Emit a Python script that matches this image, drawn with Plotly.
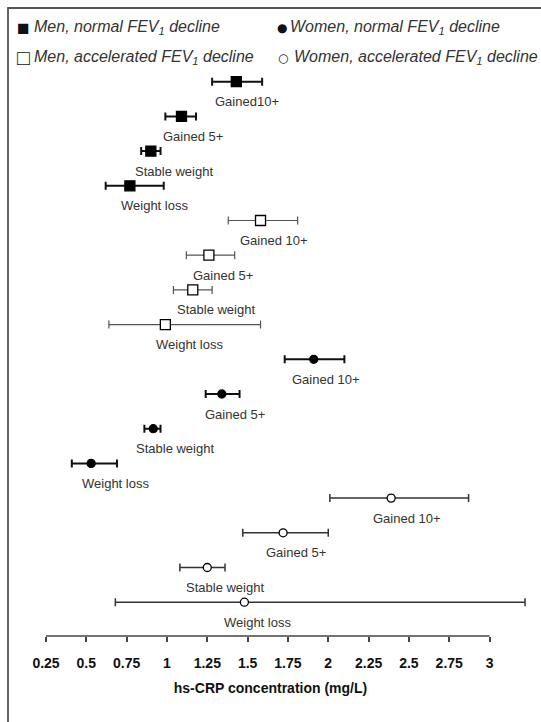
import plotly.graph_objects as go

# hs-CRP (mg/L) by weight-change group, point estimate with 95% CI
weight_groups = ["Gained 10+", "Gained 5+", "Stable weight", "Weight loss"]
men_normal_labels = ["Gained10+", "Gained 5+", "Stable weight", "Weight loss"]

men_normal = [1.43, 1.09, 0.90, 0.77]
men_normal_lo = [1.28, 0.99, 0.84, 0.62]
men_normal_hi = [1.59, 1.18, 0.96, 0.98]

men_accel = [1.58, 1.26, 1.16, 0.99]
men_accel_lo = [1.38, 1.12, 1.04, 0.64]
men_accel_hi = [1.81, 1.42, 1.28, 1.58]

women_normal = [1.91, 1.34, 0.915, 0.53]
women_normal_lo = [1.73, 1.24, 0.86, 0.41]
women_normal_hi = [2.10, 1.45, 0.96, 0.69]

women_accel = [2.39, 1.72, 1.25, 1.48]
women_accel_lo = [2.01, 1.47, 1.08, 0.68]
women_accel_hi = [2.87, 2.00, 1.36, 3.22]

tick_values = [0.25, 0.5, 0.75, 1, 1.25, 1.5, 1.75, 2, 2.25, 2.5, 2.75, 3]
tick_labels = ["0.25", "0.5", "0.75", "1", "1.25", "1.5", "1.75", "2",
               "2.25", "2.5", "2.75", "3"]

FONT = "Liberation Sans, Arial, sans-serif"
GLYPH_FONT = "DejaVu Sans, sans-serif"
W, H, B = 541, 722, 86          # figure size and bottom margin (px)
PLOT_H = H - B

series = [
    dict(name="Men, normal FEV<sub>1</sub> decline", v=men_normal, lo=men_normal_lo,
         hi=men_normal_hi, labels=men_normal_labels, symbol="square", size=10,
         fill="black", ecolor="#111", ewidth=2, shifts=[11, 12, 23, 25],
         glyph="■", glyph_font=FONT, glyph_size=21, key=(23, 28), text_x=32),
    dict(name="Men, accelerated FEV<sub>1</sub> decline", v=men_accel, lo=men_accel_lo,
         hi=men_accel_hi, labels=weight_groups, symbol="square", size=10,
         fill="white", ecolor="#555", ewidth=1.2, shifts=[13, 14, 23, 24],
         glyph="□", glyph_font=FONT, glyph_size=21, key=(23, 58), text_x=32),
    dict(name="Women, normal FEV<sub>1</sub> decline", v=women_normal, lo=women_normal_lo,
         hi=women_normal_hi, labels=weight_groups, symbol="circle", size=8,
         fill="black", ecolor="#111", ewidth=2, shifts=[12, 13, 22, 24],
         glyph="●", glyph_font=GLYPH_FONT, glyph_size=12, key=(282, 28), text_x=288),
    dict(name="Women, accelerated FEV<sub>1</sub> decline", v=women_accel, lo=women_accel_lo,
         hi=women_accel_hi, labels=weight_groups, symbol="circle", size=8,
         fill="white", ecolor="#333", ewidth=1.5, shifts=[16, 13, 18, 13],
         glyph="○", glyph_font=GLYPH_FONT, glyph_size=12, key=(283, 58), text_x=292),
]

fig = go.Figure()
annotations = []
row = 0
for s in series:
    rows = list(range(row, row + len(s["v"])))
    row += len(s["v"])
    fig.add_trace(go.Scatter(
        x=s["v"], y=rows, mode="markers", name=s["name"],
        marker=dict(symbol=s["symbol"], size=s["size"], color=s["fill"],
                    line=dict(color="black", width=1.3)),
        error_x=dict(type="data", symmetric=False,
                     array=[h - v for h, v in zip(s["hi"], s["v"])],
                     arrayminus=[v - l for v, l in zip(s["v"], s["lo"])],
                     color=s["ecolor"], thickness=s["ewidth"], width=4),
    ))
    for x, y, lab, sh in zip(s["v"], rows, s["labels"], s["shifts"]):
        annotations.append(dict(x=x, y=y, xref="x", yref="y", text=lab,
                                showarrow=False, xshift=sh, yshift=-20,
                                font=dict(family=FONT, size=13, color="#333")))
    # key entry: symbol glyph followed by italic series name
    kx, ky = s["key"]
    annotations.append(dict(x=kx / W, y=1 - ky / PLOT_H, xref="paper", yref="paper",
                            text=s["glyph"], showarrow=False, xanchor="center",
                            yanchor="middle",
                            font=dict(family=s["glyph_font"], size=s["glyph_size"],
                                      color="#111")))
    annotations.append(dict(x=s["text_x"] / W, y=1 - ky / PLOT_H, xref="paper",
                            yref="paper", text="<i>" + s["name"] + "</i>",
                            showarrow=False, xanchor="left", yanchor="middle",
                            font=dict(family=FONT, size=16, color="#333")))

fig.update_layout(
    width=W, height=H,
    margin=dict(l=0, r=0, t=0, b=B),
    paper_bgcolor="white", plot_bgcolor="white",
    font=dict(family=FONT, color="#333"),
    showlegend=False,
    xaxis=dict(range=[-0.0352, 3.319], tickvals=tick_values, ticktext=tick_labels,
               ticks="outside", ticklen=5, tickwidth=1.5, tickcolor="#444",
               showline=False, showgrid=False, zeroline=False,
               tickfont=dict(family=FONT, size=14, color="#111", weight="bold"),
               ticklabelstandoff=9,
               title=dict(text="hs-CRP concentration (mg/L)", standoff=13,
                          font=dict(family=FONT, size=14, color="#111", weight="bold"))),
    yaxis=dict(range=[15.974, -2.354], visible=False, showgrid=False, zeroline=False),
    annotations=annotations,
    shapes=[
        # axis line spanning the labelled ticks only
        dict(type="line", xref="x", yref="paper", x0=tick_values[0], x1=tick_values[-1],
             y0=0, y1=0, line=dict(color="#444", width=1.5)),
        # panel frame
        dict(type="rect", xref="paper", yref="paper", x0=8 / W, x1=1.1,
             y0=-0.3, y1=1 - 8 / PLOT_H, line=dict(color="#555", width=1.8),
             fillcolor="rgba(0,0,0,0)", layer="below"),
    ],
)

fig.write_html("out.html")
